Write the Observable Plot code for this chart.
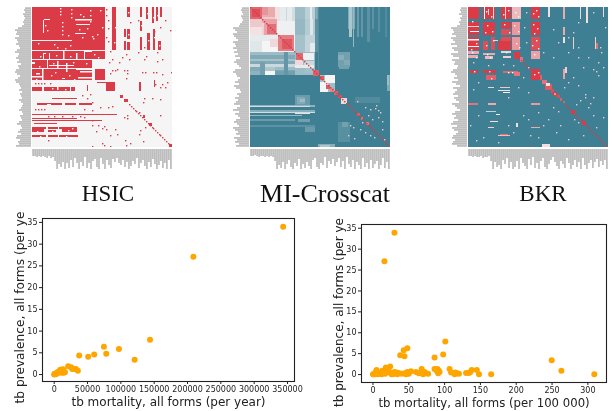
<!DOCTYPE html>
<html><head><meta charset="utf-8">
<style>
html,body{margin:0;padding:0;background:#fff;}
#c{position:relative;width:615px;height:411px;overflow:hidden;filter:blur(0.5px);}
#c>svg,#c>div.p{position:absolute;}
.t{position:absolute;font-family:"Liberation Serif",serif;color:#111;transform:translateX(-50%);white-space:nowrap;line-height:1;}
</style>
<script src="https://cdn.jsdelivr.net/npm/d3@7"></script>
<script src="https://cdn.jsdelivr.net/npm/@observablehq/plot@0.6"></script>
</head><body><div id="c"></div>
<script>
const titles = ["HSIC","MI-Crosscat","BKR"];
const xLabel1 = "tb mortality, all forms (per year)";
const xLabel2 = "tb mortality, all forms (per 100 000)";
const yLabel = "tb prevalence, all forms (per ye";
const x1Ticks = [0,50000,100000,150000,200000,250000,300000,350000];
const x2Ticks = [0,50,100,150,200,250,300];
const yTicks = [0,5,10,15,20,25,30,35];

const perYear = [[343500,34],[208800,27.1],[143700,8],[120700,3.4],[97100,5.9],[78100,4.8],[74600,6.4],[60000,4.6],[51000,4.1],[37500,4.4],[35500,.9],[32500,1.3],[29500,1.3],[27000,1.3],[25500,1.7],[21000,1.9],[15500,.5],[13500,1.1],[9500,1.1],[7000,.7],[4500,.3],[0,0],[500,.1],[1500,.2],[2500,.05],[3000,.3],[1000,.1],[4000,.3],[5000,.5],[6000,.4],[8000,.6],[9000,1],[10500,1.1],[12000,.8],[14000,.4],[16000,.5],[11000,.4],[13000,1.2]];
const per100k = [[30,33.9],[16,27.1],[101,7.9],[98,4.8],[86,4.1],[48,6.3],[43,5.8],[38,4.6],[44,4.4],[249.5,3.4],[263,.9],[309,.1],[165,.1],[148,.1],[145,1.1],[138,1.1],[136,.6],[134,.4],[130,.4],[120,.2],[117,.3],[115,.5],[114,.1],[109,.5],[107,1.3],[92,.9],[91,.3],[90,1.3],[93,.6],[86,1.3],[89,.9],[77,.2],[74,.3],[72,.6],[70,.1],[68,1.3],[67,.4],[64,.3],[60,.6],[53,.8],[50,.2],[48,.6],[46,.1],[44,.3],[36,.4],[33,.5],[30,.6],[28,.1],[25,.3],[24,1.9],[22,.9],[20,.6],[18,1.7],[17,.2],[15,.4],[13,.9],[12,.1],[10,.4],[8,.3],[5,1.1],[4,.6],[3,.1],[1,.1],[0,.1],[19,1],[7,.1],[26,.1],[34,.1],[40,.2]];

// heatmap blocks: [col0,col1,row0,row1,value] value .5 = neutral, 1 = strong, 0 = weak
const hsicBlocks = [
[0,73,0,43,1],[0,73,44,52,1],[0,60,53,61,1],[0,60,62,73,1],[63,73,62,73,1],[80,84,0,43,1],
[0,40,33,34,.5],[0,22,43,44,.5],[53,60,43,45,.5],
[12,18,12,13,.5],[11,12,13,26,.5],[43,60,12,13.5,.5],[44,58,17,18,.5],[43,54,26,27,.5],
[11,14,46,47,.5],[0,73,52,53,.5],[11,12,47,52,.5],[17,18,46,52,.5],[31,32.5,44,52,.5],[44,45.5,46,52,.5],[52,53,44,52,.5],
[0,3,55,57,.5],[15,16,53,61,.5],[17,42,58,59,.5],[0,60,61,62,.5],[25,26.5,54,61,.5],[34,35.5,56,65,.5],[44,60,62,63,.5],[48,60,64,65.5,.5],[46,60,70,71.5,.5],[0,10,69,70.5,.5],[4,8,66,67.5,.5],[30,33,71,72,.5],[10,11.5,62,73,.5],
[74,83,75,84,1],[88,91,88,91,1],[92,96,92,95,1],[111,113,108,111,1],[117,120,116,119,1],[137,140,137,140,1],
[0,43,80,84,1],[10,12,80,84,.5],[25,26.5,80,83,.5],[38,39,80,84,.5],
[95,98,0,10,1],[95,98,22,32,1],[92,94,22,30,1],[108,110,0,10,1],[114,116,0,12,1],[120,122,0,16,1],[124,126,0,14,1],[128,130,0,10,1],[108,110,14,24,1],[115,118,26,43,1],[121,123,22,43,1],[126,129,34,43,1],[108,110,30,43,1],[92,94,34,43,1],[95,98,35,43,1],
[20,45,91,92,1],[5,60,96,98,1],[15,19,97,98,.5],[30,33,96,98,.5],[44,47,96,98,.5],
[0,85,107,108,1],[0,70,113,114,1],[0,45,111,112,1],[2,25,116,117,1],
[0,45,120,122,1],[0,12,122,125,1],[15,24,123,125,1],[30,45,121,125,1],[0,46,128,130,1],[14,16,120,130,.5],[26,27,120,130,.5],
[107,109,75,84,1],[122,123,73,80,1],[55,56,78,84,1],[65,75,75,76,1]
];
const hsicSpecks = [[3,102],[6,102],[9,102],[12,102],[16,109],[22,109],[30,109],[40,109],[48,109],[52,110],[60,113],[72,119],[60,118],[66,118],[70,121],[64,124],[74,122],[78,128],[70,136],[60,139],[16,133],[48,140],[80,99],[76,100],[68,100],[60,95],[55,91],[58,87],[50,88],[52,102],[60,103],[80,140],[72,138],[78,139],[95,108],[95,111],[92,110],[94,138],[107,105],[112,91],[111,95],[120,91],[128,92],[128,108],[113,120],[108,123],[107,127],[111,134],[98,136],[93,133],[85,127],[83,122],[77,55],[80,63],[83,63],[85,62],[78,66],[92,63],[95,63],[95,66],[94,71],[110,65],[113,65],[121,65],[124,65],[130,67],[139,65],[135,75],[130,77],[123,77],[133,80],[128,80],[90,50],[94,47],[97,52],[112,52],[125,54],[130,52],[80,52],[87,55],[92,26],[106,45],[114,49],[125,45],[112,40],[98,15],[106,13],[133,13],[138,23],[128,20],[74,2],[74,8],[76,13],[76,21],[74,30],[78,44],[76,34],[122,24],[3,76],[6,76],[9,76],[12,76],[18,76]];
const hsicWhite = [[28,1],[28,4],[28,7],[39,2],[39,6],[39,10],[58,3],[58,8],[58,14],[60,29],[61,31],[30,15],[30,19],[30,23],[30,27],[48,7],[51,9],[55,21],[47,22],[50,30],[36,28],[22,37],[25,40],[33,41],[38,38],[6,36],[68,3],[70,20],[65,27],[13,18],[15,23],[8,49],[24,48],[38,49],[62,47],[66,50],[70,56],[21,56],[7,59],[41,55],[54,56],[23,65],[19,68],[37,68],[42,72],[4,72],[96,5],[96,27],[115,6],[121,10],[109,18],[116,33],[122,30],[127,38],[125,8],[83,20],[82,35],[20,81],[33,82],[5,124],[20,124],[36,123],[8,129],[34,129],[40,121]];
const hsicDiag = [97,99,101,103,104,106,108,110,112,114,116,118,120,121,123,125,127,128,130,132,134,136];

const miBlocks = [
[0,45,0,45,.48],[0,12,0,12,.88],[2,10,2,10,.95],[12,25,0,10,.7],[12,18,0,8,.76],[12,25,10,12,.62],[25,30,0,14,.56],[30,45,0,14,.46],[36,37,0,14,.38],[42,45,0,14,.4],
[0,12,12,20,.62],[0,12,20,28,.55],[12,27,12,28,.72],[17,26,17,27,.86],[12,14,16,28,.6],
[0,28,28,34,.46],[0,12,34,45,.44],[12,28,34,45,.5],[20,28,32,40,.58],[28,44,28,44,.82],[32,42,32,42,.92],
[45,100,0,12,.16],[45,55,0,12,.26],[55,65,0,12,.34],[60,62,0,12,.46],[66,67,0,12,.2],
[45,100,12,45,.08],[45,55,12,28,.24],[55,65,12,28,.32],[60,63,12,28,.44],[45,55,28,45,.28],[55,65,28,45,.36],[60,65,36,45,.46],
[0,45,45,68,.18],[0,45,45,48,.26],[0,45,52,54,.28],[0,45,57,60,.38],[15,25,60,64,.3],[15,25,64,68,.5],[25,45,60,63,.26],[0,15,64,68,.22],[25,45,64,68,.14],
[45,65,45,68,.26],[46,53,46,53,.88],[53,64,46,53,.48],[45,53,53,58,.58],[54,64,54,58,.38],[45,64,58,61,.46],[55,63,61,66,.28],
[0,140,68,140,0],[68,140,0,68,0],
[98,105,0,22,.18],[99,102,0,30,.3],[103,104,0,40,.24],[107,109,0,30,.12],[111,113,0,30,.1],[117,120,0,35,.08],[122,124,0,22,.08],[128,130,0,25,.07],[135,137,0,30,.05],
[68,69,0,68,.05],[88,100,45,60,.14],[88,94,48,53,.2],[94,100,53,58,.18],[89,99,60,62,.14],
[70,85,68,85,.5],[70,75,68,75,.28],[78,85,76,85,.26],[63,69,63,69,.9],[70,74,69,73,.92],[76,80,78,82,.92],[80,84,81,85,.8],
[84,88,84,88,.9],[88,92,88,91,.95],[91,97,91,97,.58],[107,110,106,109,.9],[111,113,110,113,.85],[116,119,115,118,.85],
[45,60,88,100,.12],[47,55,90,97,.18],[50,55,92,95,.26],
[0,65,98,100,.22],[0,60,99,100,.4],[0,65,103,105,.2],[0,65,105,106,.4],[0,52,108,109,.24],[45,60,106,107,.44],[0,45,112,114,.12],[48,60,112,115,.14],[0,65,118,120,.08],[55,65,120,125,.12],[88,100,115,135,.07],[92,98,115,120,.14],
[68,85,137,140,.2],[137,140,68,84,.18],[105,130,90,96,.05],[137,139,68,78,.26],[70,80,138,140,.3],[10,15,55,68,.14],[34,38,45,68,.1]
];
const miSpecks = [[115,100],[120,102],[125,101],[128,103],[126,98],[130,105],[118,108],[122,112],[128,110],[132,114],[100,118],[103,120],[110,122],[115,125],[120,128],[104,131],[98,128],[124,130],[132,122],[134,132],[112,115],[107,94]];
const miDiag = [0,2,4,6,8,10,12,14,16,18,20,22,24,26,28,30,32,34,36,38,40,42,44,46,48,50,52,54,56,58,60,62,64,66,68,70,72,74,76,78,80,82,84,86,88,90,92,94,96,98,100,102,104,106,108,110,112,114,116,118,120,122,124,126,128,130,132,134,136,138];

const bkrBlocks = [
[0,11,0,12,1],[15,27,0,12,1],[33,43,0,12,1],[44,53,0,12,.66],[63,72,0,12,1],
[0,11,15,28,1],[15,27,15,28,1],[33,43,15,21,1],[33,43,22,28,.95],[44,52,15,28,.75],[63,72,15,28,1],
[0,11,30,43,1],[15,20,34,43,.95],[23,27,30,43,.95],[30,43,34,43,1],[33,43,30,34,.95],[44,52,30,43,.75],[63,72,30,43,.95],
[16,17,0,12,.5],[20,21,2,8,.6],[25,26,0,12,.6],[37,38,0,12,.6],[2,11,24,25,.5],[0,11,19,20,.6],[0,11,32,33.5,.5],[0,11,39,40,.5],[26,30,33,34,.4],
[0,11,44,47,.7],[0,10,48,51,.7],[15,27,46,48,.7],[17,25,49,52,.66],[33,43,44,46,.6],[63,72,44,52,.72],[35,43,49,51,.6],
[46,52,45,52,1],[52,55,50,55,.85],
[2,10,63,66,1],[15,28,63,66,1],[18,28,68,73,.9],[35,50,64,66,.88],[46,52,65,69,.84],[63,72,62,73,1],[72,74,68,73,.9],
[74,79,73,77,.85],[77,84,77,83,.92],[83,86,82,86,.95],[78,82,76,79,.55],[89,92,88,91,.95],[92,94,91,94,.9],[95,97,94,96,.9],[103,107,103,107,1],[114,118,114,118,1],
[0,10,96,98,.85],[20,28,96,98,.7],[63,72,96,98,.75],[20,26,80,81,.6],[32,42,80,81,.62],[30,42,83,84,.55],[35,42,85,86,.5],
[95,97,0,12,.7],[95,97,20,28,.7],[95,97,62,72,.72],[95,97,30,36,.56],[105,106,30,42,.6],[112,113,0,12,.58],[127,128,30,42,.6],[128,130,36,42,.85],[118,120,0,16,.56],[135,136,0,10,.58],[80,82,0,10,.56],[97,99,60,66,.6],
[20,26,120,121,.6],[30,42,128,129,.65],[63,72,120,121,.7],[32,40,127,128,.85],[22,30,114,115,.55],
[74,82,137,140,.56],[28,32,107,108,.5],[18,28,104,105,.35],[48,50,116,120,.56]
];
const bkrSpecks = [[90,104],[117,87],[117,90],[130,68],[128,64],[106,112],[110,115],[120,100],[125,108],[100,75],[105,70],[110,78],[85,100],[80,112],[88,125],[92,118],[75,118],[70,105],[60,112],[55,108],[45,125],[30,135],[15,130],[8,133],[60,60],[55,70],[10,75],[5,82],[40,90],[50,80],[60,85],[125,90],[110,50],[100,45],[85,50],[120,50],[130,55],[135,60],[115,60],[105,25],[100,30],[90,35],[85,22],[110,15],[125,5],[137,20],[132,40],[110,40],[75,45],[56,20],[58,5],[58,35],[5,55],[20,58],[35,57],[45,58],[10,108],[2,118],[40,118],[62,128],[70,130],[100,132],[115,128],[135,110],[128,120],[108,97],[112,93],[122,96],[96,80],[133,45],[125,62]];
const bkrWhite = [[18,4],[23,9],[19,18],[24,24],[17,25],[35,7],[40,3],[36,17],[41,25],[4,14],[8,36],[3,42],[18,38],[25,33],[65,6],[68,3],[70,9],[65,17],[69,21],[66,26],[68,33],[64,38],[70,41],[66,47],[47,5],[50,9],[46,18],[50,24],[48,36],[51,40],[21,64],[6,64],[23,71],[66,67],[70,65],[40,65],[44,65],[4,45],[8,50],[19,47],[22,50],[38,45]];
const bkrDiag = [53,55,57,59,61,97,99,101,103,105,107,109,111,113,115,117,119,121,123,125,127,129,131,133,135,137,139];
const bkrDots = [[86.5,86.5]];

// marginal profiles, one value per two rows or columns
const hsicLeft = [6,7,6,8,7,6,7,8,7,9,13,16,14,15,12,16,14,13,15,12,11,14,16,12,13,15,12,14,10,13,12,15,16,14,11,13,16,15,12,11,10,12,9,11,10,9,12,10,8,9,10,12,9,8,11,10,9,12,14,10,9,11,13,10,14,15,11,13,12,15];
const hsicBottom = [7,7,8,7,8,7,8,9,7,9,8,12,20,15,18,13,20,14,19,11,18,9,14,20,13,17,8,19,14,20,12,10,18,20,9,15,20,11,16,19,10,13,9,14,16,11,18,13,20,17,12,15,9,19,14,11,17,20,13,18,10,15,20,16,12,19,14,20,11,20];
const miLeft = [7,8,7,6,8,7,6,7,9,10,16,14,12,16,15,13,11,16,14,13,16,12,15,11,14,9,13,15,12,10,8,14,16,13,12,9,11,14,10,15,13,9,8,12,10,14,11,13,15,9,12,16,10,14,11,9,13,15,12,10,16,14,11,13,9,15,12,14,10,13];
const miBottom = [7,7,6,7,8,7,7,8,7,8,7,8,12,20,16,19,13,20,15,11,18,20,14,17,10,20,15,19,13,17,20,11,9,18,20,14,16,8,19,12,15,10,17,13,9,18,12,20,8,15,18,11,20,13,16,20,9,18,14,20,11,19,15,12,20,16,9,19,13,20];
const bkrLeft = [6,7,6,8,5,7,6,8,7,10,16,14,13,15,11,16,14,12,16,10,15,13,9,16,14,8,15,12,13,9,10,14,16,12,10,13,9,15,11,7,14,10,12,14,9,13,11,8,15,12,10,7,12,15,11,13,9,14,16,10,15,13,9,11,14,15,12,14,15,10];
const bkrBottom = [7,7,8,7,8,8,7,9,8,8,7,12,20,13,18,16,20,11,15,9,19,13,20,18,12,20,9,14,17,20,10,16,8,19,14,20,12,9,18,20,15,11,8,13,17,20,12,15,19,9,14,20,16,11,18,13,20,9,16,20,14,11,19,13,10,18,12,16,11,20];

const teal = "#3f7f93", neutral = "#f5f5f5", red = "#da3b46", grey = "#bdbdbd";
const c = document.getElementById("c");
function place(el, left, top){ el.style.left = left + "px"; el.style.top = top + "px"; c.appendChild(el); }
const colorOpt = {type:"linear", domain:[0,.5,1], range:[teal,neutral,red], interpolate:"rgb", clamp:true};

function heat(left, blocks, specks, diag, dots, base){
  const size = 1.4;
  const marks = [
    Plot.rect([{v:base}], {x1:()=>0, x2:()=>140, y1:()=>0, y2:()=>140, fill:"v", inset:0}),
    Plot.rect(blocks, {x1:d=>d[0], x2:d=>d[1], y1:d=>d[2], y2:d=>d[3], fill:d=>d[4], inset:0}),
    Plot.rect(diag, {x1:d=>d, x2:d=>d+size, y1:d=>d, y2:d=>d+size, fill:()=>1, inset:0})
  ];
  for (const s of specks) marks.push(Plot.rect(s.points, {x1:d=>d[0], x2:d=>d[0]+size, y1:d=>d[1], y2:d=>d[1]+size, fill:()=>s.v, inset:0}));
  if (dots) marks.push(Plot.dot(dots, {x:d=>d[0], y:d=>d[1], r:1.6, fill:neutral, stroke:red}));
  place(Plot.plot({width:140, height:140, margin:0, style:{background:"none"},
    x:{domain:[0,140], axis:null}, y:{domain:[0,140], reverse:true, axis:null},
    color:colorOpt, marks}), left, 7);
}
function leftBars(right, vals){
  const idx = vals.map((v,i)=>i);
  place(Plot.plot({width:16, height:140, margin:0, style:{background:"none"},
    x:{domain:[16,0], axis:null}, y:{type:"band", domain:idx, padding:0.12, align:.5, axis:null},
    marks:[Plot.barX(idx, {x1:()=>0, x2:i=>vals[i], y:i=>i, fill:grey, inset:0})]}), right-16, 7);
}
function bottomBars(left, vals){
  const idx = vals.map((v,i)=>i);
  place(Plot.plot({width:140, height:21, margin:0, style:{background:"none"},
    y:{domain:[21,0], axis:null}, x:{type:"band", domain:idx, padding:0.12, align:.5, axis:null},
    marks:[Plot.barY(idx, {y1:()=>0, y2:i=>vals[i], x:i=>i, fill:grey, inset:0})]}), left, 149);
}
heat(32, hsicBlocks, [{v:1,points:hsicSpecks},{v:.5,points:hsicWhite}], hsicDiag, null, .5);
leftBars(30.5, hsicLeft); bottomBars(32, hsicBottom);
heat(250, miBlocks, [{v:.62,points:miSpecks}], miDiag, null, 0);
leftBars(248.5, miLeft); bottomBars(250, miBottom);
heat(468, bkrBlocks, [{v:.62,points:bkrSpecks},{v:.5,points:bkrWhite}], bkrDiag, bkrDots, 0);
leftBars(466.5, bkrLeft); bottomBars(468, bkrBottom);

[[108,182,23],[325,181,26],[543,182,23]].forEach(([x,y,s],i)=>{
  const d = document.createElement("div"); d.className="t"; d.textContent = titles[i];
  d.style.left=x+"px"; d.style.top=y+"px"; d.style.fontSize=s+"px"; c.appendChild(d);
});

function scatter(left, top, w, h, m, xd, yd, data, xt, xl, xs, ys, ydx, ydy){
  const font = "DejaVu Sans, sans-serif";
  place(Plot.plot({width:w, height:h, marginLeft:m[0], marginRight:m[1], marginTop:m[2], marginBottom:m[3],
    style:{background:"none", fontFamily:font, overflow:"visible"},
    x:{domain:xd}, y:{domain:yd},
    marks:[
      Plot.dot(data, {x:d=>d[0], y:d=>d[1], r:3, fill:"#ffa500"}),
      Plot.frame({stroke:"#222", strokeWidth:1.1}),
      Plot.axisX({ticks:xt, tickFormat:"d", tickSize:3, tickPadding:2, fontSize:8, label:null, color:"#222"}),
      Plot.axisY({ticks:yTicks, tickFormat:"d", tickSize:3, tickPadding:2, fontSize:8, label:null, color:"#222"}),
      Plot.text([xl], {frameAnchor:"bottom", dy:24.5, fontSize:xs, fill:"#222", fontFamily:font}),
      Plot.text([yLabel], {frameAnchor:"left", textAnchor:"middle", rotate:-90, dx:ydx, dy:ydy, fontSize:ys, fill:"#222", fontFamily:font})
    ]}), left, top);
}
scatter(0,205,305,206,[42,11,13,30],[-17550,360500],[-1.6,35.9],perYear,x1Ticks,xLabel1,12,12.2,-22,7.5);
scatter(305,205,310,206,[56,9,19,29],[-16,326],[-1.9,35.9],per100k,x2Ticks,xLabel2,11.7,12,-22,9);
</script></body></html>
